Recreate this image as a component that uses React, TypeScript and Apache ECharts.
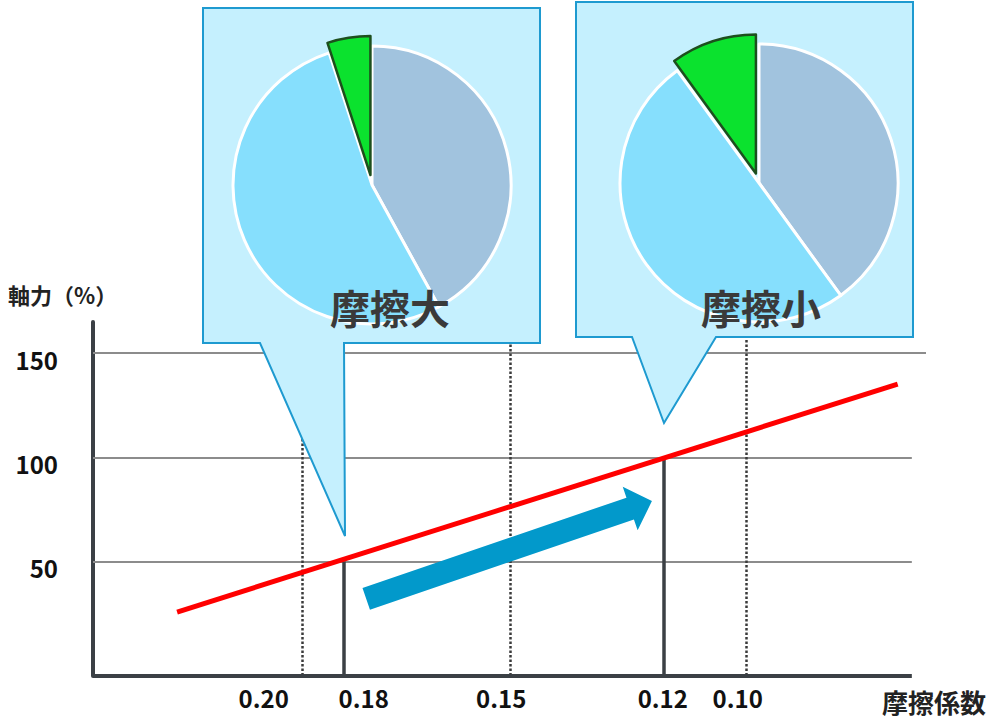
import React, { useEffect, useRef } from 'react';
import * as echarts from 'echarts';

// axial force ticks (%)
const forceTicks = [50, 100, 150];
// friction coefficients along the (schematic) x axis, in axis units 0..100
const coefficients = ['0.20', '0.18', '0.15', '0.12', '0.10'];
const coefPositions = [25.1, 30.1, 50.1, 68.5, 78.4];
const coefLabelPositions = [20.5, 32.5, 49.0, 68.4, 77.4];
// coefficients that get a solid drop line, with the axial force they reach
const dropCoefs = ['0.18', '0.12'];
const dropForces = [50, 100];
// red axial-force line (x, force)
const forceLine = [[10.1, 25.7], [96.6, 135.2]];
// blue arrow: x0, y0, x1, y1
const trendArrow = [[32.8, 32.0, 67.1, 79.0]];
// torque split in the two pies
const torqueNames = ['ねじ部摩擦', '座面摩擦', '軸力'];
const highFriction = [42, 53, 5];
const lowFriction = [40, 50, 10];

const FONT = '"Noto Sans CJK JP", "Noto Sans", sans-serif';
const DARK = '#3B4045';
const Y_MIN = -5;
const Y_MAX = 165;
const sliceColors = ['#A1C3DE', '#86DFFD', '#0BE22E'];

const pieSeries = (values: number[], center: number[]) => ({
  type: 'pie',
  z: 10,
  center,
  radius: 139,
  startAngle: 90,
  clockwise: true,
  selectedMode: 'single',
  selectedOffset: 10,
  silent: true,
  label: { show: false },
  labelLine: { show: false },
  emphasis: { disabled: true },
  data: values.map((v, i) => ({
    name: torqueNames[i],
    value: v,
    selected: i === 2,
    itemStyle: i === 2
      ? { color: sliceColors[i], borderColor: '#1D4F1D', borderWidth: 2.5 }
      : { color: sliceColors[i], borderColor: '#FFFFFF', borderWidth: 3 }
  }))
});

const App: React.FC = () => {
  const chartRef = useRef<HTMLDivElement>(null);

  useEffect(() => {
    if (!chartRef.current) return;
    const chart = echarts.init(chartRef.current, null, { renderer: 'svg' });

    const topTick = Math.max(...forceTicks);
    const gridLines = forceTicks.map(v => [
      { coord: [0, v] },
      { coord: [v === topTick ? 100 : 98.3, v] }
    ]);
    const dottedLines = coefficients
      .map((c, i) => ({ c, pos: coefPositions[i] }))
      .filter(d => !dropCoefs.includes(d.c))
      .map(d => [
        { coord: [d.pos, Y_MAX] },
        { coord: [d.pos, Y_MIN] }
      ]);
    const dropLines = dropCoefs.map((c, i) => {
      const pos = coefPositions[coefficients.indexOf(c)];
      return [{ coord: [pos, dropForces[i]] }, { coord: [pos, Y_MIN] }];
    });

    const tickFont = { color: '#111', fontFamily: FONT, fontSize: 24, fontWeight: 'bold' as const };

    const option: any = {
      animation: false,
      grid: { left: 93, top: 322, width: 833, height: 354, containLabel: false },
      xAxis: {
        type: 'value',
        min: 0,
        max: 100,
        axisLine: { show: false },
        axisTick: { show: false },
        splitLine: { show: false },
        axisLabel: {
          customValues: coefLabelPositions,
          formatter: (v: number) => coefficients[coefLabelPositions.indexOf(v)] ?? '',
          margin: 9,
          ...tickFont
        }
      },
      yAxis: {
        type: 'value',
        min: Y_MIN,
        max: Y_MAX,
        axisLine: { show: true, lineStyle: { color: DARK, width: 4 } },
        axisTick: { show: false },
        splitLine: { show: false },
        axisLabel: {
          customValues: forceTicks,
          margin: 35,
          formatter: (v: number) => `{t|${v}}`,
          rich: { t: { ...tickFont, padding: [12, 0, 0, 0] } }
        }
      },
      series: [
        {
          type: 'line',
          z: 1,
          data: [],
          silent: true,
          markLine: {
            z: 1,
            silent: true,
            symbol: ['none', 'none'],
            label: { show: false },
            emphasis: { disabled: true },
            data: [
              ...gridLines.map(d => [{ ...d[0], lineStyle: { color: '#8C8C8C', width: 2, type: 'solid' } }, d[1]]),
              ...dottedLines.map(d => [{ ...d[0], lineStyle: { color: '#3A3A3A', width: 2.5, type: [2.5, 2] } }, d[1]]),
              ...dropLines.map(d => [{ ...d[0], lineStyle: { color: DARK, width: 3.5, type: 'solid' } }, d[1]]),
              [
                { coord: [0, Y_MIN], lineStyle: { color: DARK, width: 4, type: 'solid' } },
                { coord: [98.3, Y_MIN] }
              ]
            ]
          }
        },
        {
          type: 'line',
          z: 3,
          data: forceLine,
          showSymbol: false,
          silent: true,
          lineStyle: { color: '#FF0000', width: 5 }
        },
        {
          type: 'custom',
          z: 4,
          silent: true,
          data: trendArrow,
          encode: { x: [0, 2], y: [1, 3] },
          renderItem: (_params: any, api: any) => {
            const p0 = api.coord([api.value(0), api.value(1)]);
            const p1 = api.coord([api.value(2), api.value(3)]);
            const dx = p1[0] - p0[0];
            const dy = p1[1] - p0[1];
            const len = Math.hypot(dx, dy);
            const ux = dx / len;
            const uy = dy / len;
            const nx = -uy;
            const ny = ux;
            const shaft = 11.5;
            const head = 23;
            const headLen = 23;
            const bx = p1[0] - ux * headLen;
            const by = p1[1] - uy * headLen;
            return {
              type: 'polygon',
              shape: {
                points: [
                  [p0[0] + nx * shaft, p0[1] + ny * shaft],
                  [bx + nx * shaft, by + ny * shaft],
                  [bx + nx * head, by + ny * head],
                  [p1[0], p1[1]],
                  [bx - nx * head, by - ny * head],
                  [bx - nx * shaft, by - ny * shaft],
                  [p0[0] - nx * shaft, p0[1] - ny * shaft]
                ]
              },
              style: { fill: '#0299CB' }
            };
          }
        },
        pieSeries(highFriction, [372, 185]),
        pieSeries(lowFriction, [759, 183])
      ],
      graphic: [
        {
          type: 'polygon',
          z: 6,
          silent: true,
          shape: { points: [[203, 8], [540, 8], [540, 343], [344, 343], [345, 536], [260, 343], [203, 343]] },
          style: { fill: '#C5F0FE', stroke: '#1E9AD0', lineWidth: 2 }
        },
        {
          type: 'polygon',
          z: 6,
          silent: true,
          shape: { points: [[576, 2], [913, 2], [913, 337], [716, 337], [664, 423], [632, 337], [576, 337]] },
          style: { fill: '#C5F0FE', stroke: '#1E9AD0', lineWidth: 2 }
        },
        {
          type: 'text',
          z: 20,
          x: 390,
          y: 307,
          style: {
            text: '摩擦大',
            font: `bold 40px ${FONT}`,
            fill: '#3A3A3A',
            textAlign: 'center',
            textVerticalAlign: 'middle'
          }
        },
        {
          type: 'text',
          z: 20,
          x: 761,
          y: 307,
          style: {
            text: '摩擦小',
            font: `bold 40px ${FONT}`,
            fill: '#3A3A3A',
            textAlign: 'center',
            textVerticalAlign: 'middle'
          }
        },
        {
          type: 'text',
          z: 20,
          x: 8,
          y: 294,
          style: {
            text: '軸力（%）',
            font: `bold 22px ${FONT}`,
            fill: '#222',
            textAlign: 'left',
            textVerticalAlign: 'middle'
          }
        },
        {
          type: 'text',
          z: 20,
          x: 934,
          y: 701,
          style: {
            text: '摩擦係数',
            font: `bold 26px ${FONT}`,
            fill: '#222',
            textAlign: 'center',
            textVerticalAlign: 'middle'
          }
        }
      ]
    };

    chart.setOption(option);

    return () => {
      chart.dispose();
    };
  }, []);

  return (
    <div
      ref={chartRef}
      style={{ position: 'absolute', left: 0, top: 0, width: '1000px', height: '719px' }}
    />
  );
};

export default App;
